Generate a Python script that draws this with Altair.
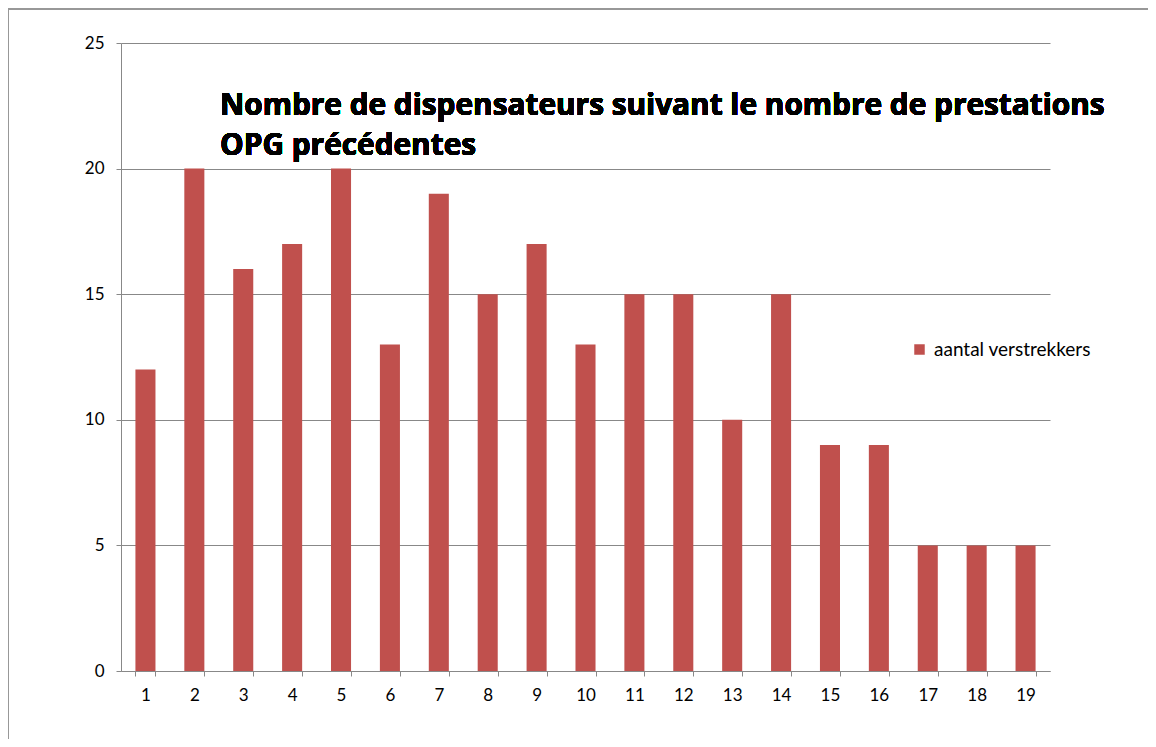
import altair as alt
import pandas as pd

categories = [str(i) for i in range(1, 20)]
values = [12, 20, 16, 17, 20, 13, 19, 15, 17, 13, 15, 15, 10, 15, 9, 9, 5, 5, 5]
series_name = "aantal verstrekkers"
title_lines = ["Nombre de dispensateurs suivant le nombre de prestations", "OPG précédentes"]

df = pd.DataFrame({"cat": categories, "val": values, "series": [series_name] * len(values)})

FONT = "Lato"
GRAY = "#888888"

bars = alt.Chart(df).mark_bar(color="#C0504D").encode(
    x=alt.X("cat:N", sort=categories, title=None,
            scale=alt.Scale(paddingInner=0.59, paddingOuter=0.295),
            axis=alt.Axis(labelAngle=0, tickBand="extent", domainColor=GRAY, tickColor=GRAY,
                          tickSize=5, labelPadding=11, labelFontSize=17, labelFont=FONT,
                          labelColor="#000000", grid=False)),
    y=alt.Y("val:Q", title=None,
            scale=alt.Scale(domain=[0, 25]),
            axis=alt.Axis(values=[0, 5, 10, 15, 20, 25], domainColor=GRAY, tickColor=GRAY,
                          tickSize=5, labelPadding=12, labelFontSize=17, labelFont=FONT,
                          labelColor="#000000", gridColor=GRAY, gridWidth=1)),
    color=alt.Color("series:N", scale=alt.Scale(range=["#C0504D"]),
                    legend=alt.Legend(title=None, orient="none", legendX=789, legendY=297,
                                      symbolType="square", symbolSize=110, labelFont=FONT,
                                      labelFontSize=19, labelColor="#000000", labelOffset=5)),
)

title = alt.Chart(df).mark_text(
    text=title_lines, align="left", baseline="alphabetic", font="Open Sans", fontWeight="bold",
    fontSize=29.8, lineHeight=40, color="#000000"
).encode(x=alt.value(99), y=alt.value(72))

border_top = alt.Chart(df).mark_rule(color="#999999", strokeWidth=1.5).encode(
    x=alt.value(-113), x2=alt.value(1100), y=alt.value(-34))
border_left = alt.Chart(df).mark_rule(color="#999999", strokeWidth=1.5).encode(
    x=alt.value(-113), y=alt.value(-34), y2=alt.value(720))

chart = alt.layer(bars, title, border_top, border_left).properties(
    width=929, height=628,
    autosize=alt.AutoSizeParams(type="none"),
    padding={"left": 113, "top": 35, "right": 98, "bottom": 68},
).configure_view(stroke=None)

chart.save("out.html", embed_options={"renderer": "svg", "actions": False})
